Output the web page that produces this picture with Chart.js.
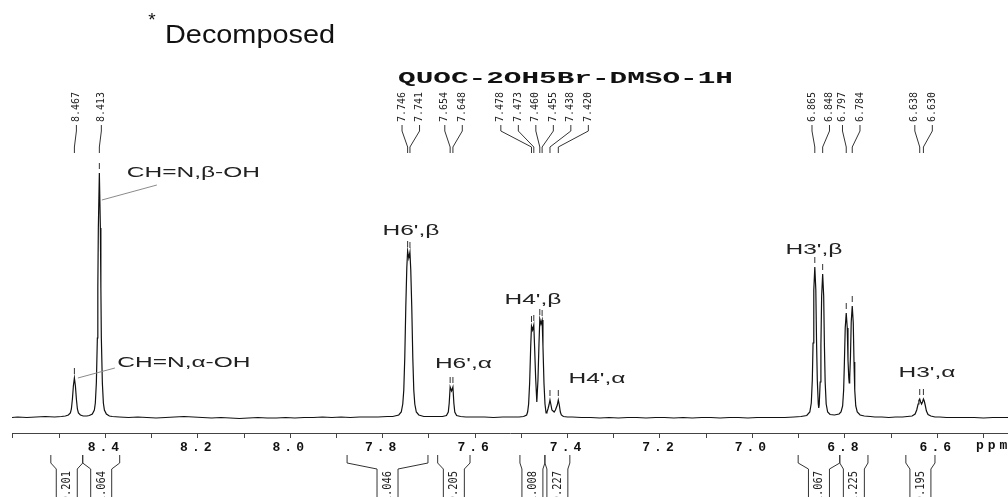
<!DOCTYPE html>
<html>
<head>
<meta charset="utf-8">
<script src="https://cdn.jsdelivr.net/npm/chart.js@4.4.1/dist/chart.umd.min.js"></script>
<style>
  html, body { margin: 0; padding: 0; background: #ffffff; }
  canvas { display: block; }
</style>
</head>
<body>
<canvas id="c" width="1008" height="497"></canvas>
<script>
// ---------------- DATA ----------------
// [chemical shift (ppm), intensity (arbitrary units, baseline = 0)]
const baselineA = [[8.602,0.5],[8.59,1],[8.57,0.5],[8.55,1],[8.53,1.5],[8.51,1],[8.495,1.5]];
const imineRegion = [[8.4865,2],[8.480,3],[8.4757,5],[8.4735,9],[8.4713,19],[8.4692,32],[8.467,40],[8.4648,32],[8.4627,19],[8.4605,9],[8.4583,5],[8.454,3],[8.448,2],[8.440,2],[8.4347,2.5],[8.4282,4],[8.4238,8],[8.4217,15],[8.4195,35],[8.4173,80],[8.4163,130],[8.4152,190],[8.413,245],[8.4108,190],[8.4097,130],[8.4087,80],[8.4065,35],[8.4043,15],[8.4021,8],[8.3978,4],[8.3913,2]];
const baselineB = [[8.385,1.5],[8.37,1],[8.35,0.5],[8.33,1],[8.31,0.5],[8.29,0],[8.27,0.5],[8.25,1],[8.23,1.5],[8.21,1],[8.19,0.5],[8.17,0],[8.15,0.5],[8.13,0],[8.11,-0.5],[8.09,0],[8.07,0.5],[8.05,0],[8.03,0],[8.01,0.5],[7.99,0],[7.97,0.5],[7.95,0.5],[7.93,1],[7.91,0.5],[7.89,1],[7.87,0.5],[7.85,1],[7.83,1],[7.81,1],[7.79,1.5]];
const h6Region = [[7.778,1.5],[7.7652,3],[7.7598,6],[7.7565,14],[7.7543,28],[7.7522,60],[7.750,110],[7.7478,150],[7.746,167],[7.7435,160],[7.741,166],[7.7392,148],[7.737,110],[7.7348,60],[7.7327,28],[7.7305,14],[7.7272,6],[7.7218,3],[7.711,1.5],[7.700,1.5],[7.690,1.5],[7.680,1.5],[7.6705,1.5],[7.662,2.5],[7.658,6],[7.656,15],[7.654,31],[7.651,27],[7.648,31],[7.646,15],[7.644,6],[7.640,2.5],[7.6315,1.5]];
const baselineC = [[7.62,1],[7.60,1],[7.58,1],[7.56,0.5],[7.54,1],[7.52,1],[7.505,1]];
const h4Region = [[7.495,1.5],[7.4885,3],[7.4864,6],[7.4842,14],[7.482,35],[7.4798,70],[7.478,92],[7.4755,88],[7.473,93],[7.4712,70],[7.469,40],[7.4665,16],[7.464,38],[7.4618,74],[7.460,99],[7.4575,94],[7.455,98],[7.4532,72],[7.451,35],[7.4488,14],[7.4465,5],[7.4445,6],[7.4424,9],[7.4402,13],[7.438,18],[7.4358,13],[7.4338,8],[7.429,6],[7.4262,8],[7.4222,13],[7.420,18],[7.4178,13],[7.4156,6],[7.4134,3],[7.409,1.5],[7.400,1]];
const baselineD = [[7.39,1],[7.37,0.5],[7.35,0.5],[7.33,0],[7.31,0.5],[7.29,0],[7.27,0.5],[7.25,0.5],[7.23,0],[7.21,0.5],[7.19,0.5],[7.17,0],[7.15,0.5],[7.13,0],[7.11,0.5],[7.09,0.5],[7.07,0],[7.05,0.5],[7.03,0.5],[7.01,0],[6.99,0.5],[6.97,0.5],[6.95,0.5],[6.93,0.5],[6.91,1]];
const h3Region = [[6.895,1.5],[6.8824,2.5],[6.8758,6],[6.8726,15],[6.8704,38],[6.8688,75],[6.8672,128],[6.865,151],[6.8628,128],[6.8612,75],[6.8596,38],[6.8575,14],[6.8565,10],[6.8555,13],[6.8534,36],[6.8518,72],[6.8502,122],[6.848,144],[6.8458,122],[6.8442,72],[6.8426,36],[6.8404,14],[6.8372,6],[6.832,3.5],[6.8225,3],[6.8125,4],[6.8083,6],[6.8048,12],[6.8026,28],[6.801,55],[6.7992,90],[6.797,105],[6.7948,90],[6.7932,58],[6.7915,40],[6.7905,35],[6.7895,40],[6.7878,62],[6.7862,96],[6.784,112],[6.7818,95],[6.7802,56],[6.7786,28],[6.7764,12],[6.7732,6],[6.767,3],[6.758,2],[6.745,1.5]];
const baselineE = [[6.735,1],[6.72,1],[6.705,0.5],[6.69,1],[6.675,1],[6.665,1.5]];
const h3AlphaRegion = [[6.6545,2],[6.648,4],[6.6445,8],[6.6415,14],[6.6398,17.5],[6.638,19],[6.636,16],[6.634,14],[6.632,16],[6.630,19],[6.6282,17],[6.6262,13],[6.6235,7],[6.620,3.5],[6.614,2],[6.605,1]];
const baselineF = [[6.595,1],[6.58,0.5],[6.56,0.5],[6.54,0.5],[6.52,0.5],[6.50,0],[6.48,0.5],[6.46,0.5],[6.447,0.5]];

// picked peaks (labels printed above the spectrum)
const peakLabels = ['8.467','8.413','7.746','7.741','7.654','7.648','7.478','7.473','7.460','7.455','7.438','7.420','6.865','6.848','6.797','6.784','6.638','6.630'];

// integrals
const integralStart = [8.518, 8.449, 7.877, 7.681, 7.503, 7.449, 6.901, 6.811, 6.668];
const integralEnd   = [8.449, 8.369, 7.702, 7.611, 7.449, 7.395, 6.811, 6.750, 6.605];
const integralValues = ['0.201','1.064','1.046','0.205','1.008','0.227','1.067','1.225','0.195'];

// axis
const axisMinPpm = 6.447, axisMaxPpm = 8.602, tickStep = 0.1;

// assignments
const assignTexts = ['CH=N,\u03B2-OH','CH=N,\u03B1-OH','H6\',\u03B2','H6\',\u03B1','H4\',\u03B2','H4\',\u03B1','H3\',\u03B2','H3\',\u03B1'];
const assignPpm   = [8.2096, 8.2301, 7.7389, 7.6253, 7.4749, 7.3364, 6.8668, 6.6223];
const assignLevel = [245, 55, 187, 54, 118, 39, 168, 45];
// leader lines: [fromPpm, fromLevel, toPpm, toLevel]
const leaderLines = [[8.2886,233,8.4076,218],[8.3794,50,8.4595,40]];

const titleText = 'QUOC-2OH5Br-DMSO-1H';
const noteText = 'Decomposed';

// ---------------- BUILD ----------------
const spectrum = [].concat(baselineA, imineRegion, baselineB, h6Region, baselineC, h4Region, baselineD, h3Region, baselineE, h3AlphaRegion, baselineF)
  .map(p => ({x: p[0], y: p[1]}));

function heightAt(ppm) {
  let best = spectrum[0];
  for (const p of spectrum) if (Math.abs(p.x - ppm) < Math.abs(best.x - ppm)) best = p;
  return best.y;
}

function scaledText(ctx, text, x, y, font, sx, align, base, color) {
  ctx.save();
  ctx.font = font; ctx.fillStyle = color; ctx.textAlign = align; ctx.textBaseline = base;
  ctx.translate(x, y); ctx.scale(sx, 1); ctx.fillText(text, 0, 0);
  ctx.restore();
}
function fitText(ctx, text, cx, y, font, width, base, color) {
  ctx.save(); ctx.font = font; const w = ctx.measureText(text).width; ctx.restore();
  scaledText(ctx, text, cx, y, font, width / w, 'center', base, color);
}
function vText(ctx, text, x, y, font, along, align, color) {
  ctx.save();
  ctx.font = font; ctx.fillStyle = color; ctx.textAlign = align; ctx.textBaseline = 'middle';
  ctx.translate(x, y); ctx.rotate(-Math.PI / 2); ctx.scale(along, 1); ctx.fillText(text, 0, 0);
  ctx.restore();
}

const spacingPlugin = {
  id: 'spacing',
  beforeDraw(chart) { chart.ctx.letterSpacing = '4px'; },
  beforeDatasetsDraw(chart) { chart.ctx.letterSpacing = '0px'; }
};

const decorPlugin = {
  id: 'decor',
  afterDraw(chart) {
    const ctx = chart.ctx, xs = chart.scales.x, ys = chart.scales.y;
    ctx.save();
    ctx.letterSpacing = '0px';

    // header note
    scaledText(ctx, '*', 152, 26, '19px "Liberation Sans"', 1, 'center', 'alphabetic', '#111');
    ctx.save(); ctx.font = '25px "Liberation Sans"'; const nw = ctx.measureText(noteText).width; ctx.restore();
    scaledText(ctx, noteText, 165, 43, '25px "Liberation Sans"', 170 / nw, 'left', 'alphabetic', '#111');

    // title
    fitText(ctx, titleText, 565.5, 79, 'bold 17px "Liberation Mono"', 335, 'middle', '#111');

    // picked peak labels + connectors
    const ppms = peakLabels.map(parseFloat);
    const clusters = []; let cur = [0];
    for (let i = 1; i < ppms.length; i++) {
      if (ppms[i - 1] - ppms[i] < 0.03) cur.push(i); else { clusters.push(cur); cur = [i]; }
    }
    clusters.push(cur);
    ctx.strokeStyle = '#333'; ctx.lineWidth = 1;
    for (const cl of clusters) {
      const pxs = cl.map(i => xs.getPixelForValue(ppms[i]));
      const mean = pxs.reduce((a, b) => a + b, 0) / pxs.length;
      cl.forEach((i, j) => {
        const lx = mean + 2 + (j - (cl.length - 1) / 2) * 17.5;
        const px = pxs[j];
        vText(ctx, peakLabels[i], lx, 122, '10px "DejaVu Sans Mono"', 1, 'left', '#222');
        ctx.beginPath();
        ctx.moveTo(lx, 125); ctx.lineTo(lx, 131); ctx.lineTo(px, 147); ctx.lineTo(px, 153);
        ctx.stroke();
        // peak pick dash
        const top = ys.getPixelForValue(heightAt(ppms[i]));
        ctx.beginPath(); ctx.moveTo(px, top - 10); ctx.lineTo(px, top - 4); ctx.stroke();
      });
    }

    // assignments
    assignTexts.forEach((t, i) => {
      const x = xs.getPixelForValue(assignPpm[i]), y = ys.getPixelForValue(assignLevel[i]);
      scaledText(ctx, t, x, y, '14px "Liberation Sans"', 1.75, 'center', 'middle', '#222');
    });
    ctx.strokeStyle = '#8a8a8a';
    leaderLines.forEach(l => {
      ctx.beginPath();
      ctx.moveTo(xs.getPixelForValue(l[0]), ys.getPixelForValue(l[1]));
      ctx.lineTo(xs.getPixelForValue(l[2]), ys.getPixelForValue(l[3]));
      ctx.stroke();
    });

    // integrals
    ctx.strokeStyle = '#333';
    integralValues.forEach((v, i) => {
      const xl = xs.getPixelForValue(integralStart[i]), xr = xs.getPixelForValue(integralEnd[i]);
      const cx = (xl + xr) / 2;
      const il = Math.max(cx - 10.5, xl + 2), ir = Math.min(cx + 10.5, xr - 2);
      ctx.beginPath();
      ctx.moveTo(xl, 455); ctx.lineTo(xl, 463); ctx.lineTo(il, 469); ctx.lineTo(il, 500);
      ctx.moveTo(xr, 455); ctx.lineTo(xr, 463); ctx.lineTo(ir, 469); ctx.lineTo(ir, 500);
      ctx.stroke();
      vText(ctx, v, (il + ir) / 2, 471, '13px "DejaVu Sans Mono"', 0.8, 'right', '#222');
    });

    // axis unit
    ctx.save();
    ctx.letterSpacing = '4px';
    ctx.font = 'bold 13px "Liberation Mono"'; ctx.fillStyle = '#111';
    ctx.textAlign = 'left'; ctx.textBaseline = 'middle';
    ctx.fillText('ppm', 976, 446);
    ctx.restore();

    ctx.restore();
  }
};

new Chart(document.getElementById('c'), {
  type: 'line',
  data: {
    datasets: [{
      label: 'QUOC-2OH5Br-DMSO-1H',
      data: spectrum,
      borderColor: '#111',
      borderWidth: 1.2,
      pointRadius: 0,
      tension: 0,
      fill: false
    }]
  },
  options: {
    responsive: false,
    animation: false,
    layout: { padding: { left: 12, right: 0, top: 133, bottom: 0 } },
    plugins: { legend: { display: false }, tooltip: { enabled: false }, title: { display: false } },
    scales: {
      x: {
        type: 'linear',
        reverse: true,
        min: axisMinPpm,
        max: axisMaxPpm,
        afterFit(s) { s.height = 64; },
        border: { display: true, color: '#444', width: 1 },
        grid: { drawOnChartArea: false, drawTicks: true, tickLength: 5, color: '#444' },
        ticks: {
          stepSize: tickStep,
          includeBounds: false,
          autoSkip: false,
          maxRotation: 0,
          padding: 2,
          color: '#111',
          font: { family: 'Liberation Mono', weight: 'bold', size: 13 },
          callback: (v) => {
            const k = Math.round(v * 10);
            if (k % 2 !== 0 || v > 8.5 || v < 6.55) return '';
            return (k / 10).toFixed(1);
          }
        }
      },
      y: { display: false, min: -15, max: 285 }
    }
  },
  plugins: [spacingPlugin, decorPlugin]
});
</script>
</body>
</html>
